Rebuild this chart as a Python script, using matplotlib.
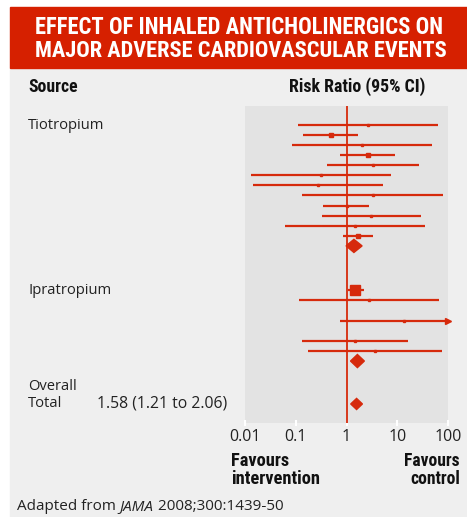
import matplotlib
matplotlib.use("Agg")
import matplotlib.pyplot as plt
import matplotlib.transforms as mtransforms
from matplotlib.patches import Rectangle, Polygon
import numpy as np

# values: risk ratio with 95% CI, and a rough study weight
tio_rr = [2.6, 0.49, 2.0, 2.6, 3.4, 0.31, 0.28, 3.3, 1.0, 3.05, 1.44, 1.67]
tio_lo = [0.113, 0.137, 0.084, 0.75, 0.41, 0.0133, 0.0146, 0.133, 0.35, 0.33, 0.061, 0.87]
tio_hi = [63, 1.72, 48, 9.1, 27, 7.6, 5.3, 80, 2.8, 29, 36, 3.3]
tio_wt = [1, 3, 1, 3, 1.5, 1.5, 1.5, 1.5, 1.5, 1, 1, 6]
tio_pooled = [1.4, 0.98, 2.03]

# None = trial with no estimable ratio (empty row)
ipra_rr = [1.5, 2.8, None, 13.7, None, 1.44, 3.7]
ipra_lo = [1.09, 0.115, None, 0.75, None, 0.133, 0.178]
ipra_hi = [2.25, 67, None, 250, None, 16, 75]
ipra_wt = [20, 1, None, 1, None, 1, 1]
ipra_pooled = [1.64, 1.2, 2.25]

overall = [1.58, 1.21, 2.06]
overall_text = "1.58 (1.21 to 2.06)"

tick_vals = [0.01, 0.1, 1, 10, 100]
tick_labels = ["0.01", "0.1", "1", "10", "100"]

RED = "#d62a0c"
W, H = 467, 517

body = ["Open Sans", "DejaVu Sans"]
bold = ["Roboto Condensed", "Liberation Sans Narrow", "Liberation Sans", "DejaVu Sans"]


def fx(px):
    return px / W


def fy(py):
    return 1 - py / H


fig = plt.figure(figsize=(W / 100, H / 100), dpi=100)
fig.patch.set_facecolor("white")
renderer = fig.canvas.get_renderer()

# background panel and red banner
fig.patches.append(Rectangle((fx(10), fy(517)), fx(467) - fx(10), fy(68) - fy(517),
                             transform=fig.transFigure, color="#efefef", zorder=-10))
fig.patches.append(Rectangle((fx(10), fy(68)), fx(467) - fx(10), fy(7) - fy(68),
                             transform=fig.transFigure, color="#d62000", zorder=-10))


def fitted(px_x, px_y, s, width_px, **kw):
    t = fig.text(fx(px_x), fy(px_y), s, fontsize=12, fontweight="bold",
                 family=bold, va="center", **kw)
    w = t.get_window_extent(renderer).width
    t.set_fontsize(12 * width_px / w)
    return t


fitted(239, 28, "EFFECT OF INHALED ANTICHOLINERGICS ON", 408, color="white", ha="center")
fitted(241, 51, "MAJOR ADVERSE CARDIOVASCULAR EVENTS", 412, color="white", ha="center")

ax = fig.add_axes([fx(245), fy(423), fx(448) - fx(245), fy(106) - fy(423)])
ax.set_facecolor("#e3e3e3")
for s in ax.spines.values():
    s.set_visible(False)
ax.set_xscale("log")
ax.set_xlim(0.01, 100)
row_px = 10.1
ax.set_ylim((423 - 124.7) / row_px, (106 - 124.7) / row_px)
ax.set_yticks([])
ax.set_xticks(tick_vals)
ax.set_xticklabels(tick_labels, family=body)
ax.xaxis.set_minor_locator(matplotlib.ticker.NullLocator())
ax.tick_params(axis="x", direction="inout", length=5, width=1.5, color="white",
               labelsize=11.5, labelcolor="#222222", pad=2)
ax.axvline(1, color=RED, lw=1.3, zorder=3)


def draw_diamond(y, est, h):
    c, l, r = est
    ax.add_patch(Polygon([(l, y), (c, y - h), (r, y), (c, y + h)], closed=True,
                         color=RED, zorder=5))


def draw_group(y0, rr, lo, hi, wt, pooled):
    for i in range(len(rr)):
        if rr[i] is None:
            continue
        y = y0 + i
        ax.plot([lo[i], min(hi[i], 100)], [y, y], color=RED, lw=1.6,
                solid_capstyle="butt", zorder=4)
        if hi[i] > 100:
            ax.plot([100], [y], marker=">", ms=4.5, color=RED, clip_on=False, zorder=4)
        ax.plot([rr[i]], [y], marker="s", ms=1.45 * np.sqrt(wt[i]), color=RED,
                mec=RED, zorder=5)
    draw_diamond(y0 + len(rr), pooled, 0.65)


tio_y0 = 0
ipra_y0 = 16.4
total_y = 27.65
draw_group(tio_y0, tio_rr, tio_lo, tio_hi, tio_wt, tio_pooled)
draw_group(ipra_y0, ipra_rr, ipra_lo, ipra_hi, ipra_wt, ipra_pooled)
draw_diamond(total_y, overall, 0.55)

blend = mtransforms.blended_transform_factory(fig.transFigure, ax.transData)
fitted(28, 87, "Source", 50, color="#111111")
fitted(425, 87, "Risk Ratio (95% CI)", 137, color="#111111", ha="right")
fig.text(fx(28), tio_y0 + 0.1, "Tiotropium", transform=blend, fontsize=10.6, family=body,
         va="center", color="#222222")
fig.text(fx(28), ipra_y0, "Ipratropium", transform=blend, fontsize=10.6, family=body,
         va="center", color="#222222")
fig.text(fx(28), total_y - 1.7, "Overall", transform=blend, fontsize=10.6, family=body,
         va="center", color="#222222")
fig.text(fx(28), total_y, "Total", transform=blend, fontsize=10.6, family=body,
         va="center", color="#222222")
fig.text(fx(97), total_y, overall_text, transform=blend, fontsize=11.3, family=body,
         va="center", color="#222222")

fitted(231, 470, "Favours\nintervention", 89, color="#111111", ha="left",
       linespacing=1.0)
fitted(460, 470, "Favours\ncontrol", 56, color="#111111", ha="right",
       multialignment="right", linespacing=1.0)

# footnote with italic journal name
t1 = fig.text(fx(17), fy(507), "Adapted from ", fontsize=11, family=body,
              va="center", color="#222222")
x1 = t1.get_window_extent(renderer).x1
t2 = fig.text(x1 / W, fy(507), "JAMA", fontsize=11, family=body, style="italic",
              va="center", color="#222222")
x2 = t2.get_window_extent(renderer).x1
fig.text(x2 / W, fy(507), " 2008;300:1439-50", fontsize=11, family=body,
         va="center", color="#222222")

fig.savefig("out.png", dpi=100)
